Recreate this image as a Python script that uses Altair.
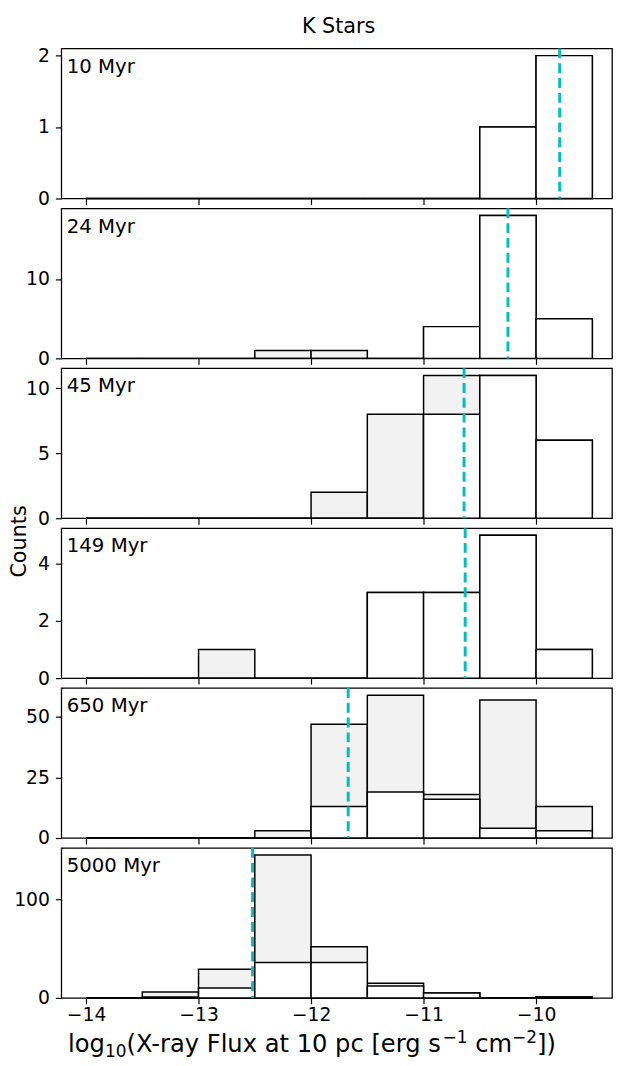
import altair as alt
import pandas as pd

# ---- data ----
bin_edges = [-14.0, -13.5, -13.0, -12.5, -12.0, -11.5, -11.0, -10.5, -10.0, -9.5]
ages = ["10 Myr", "24 Myr", "45 Myr", "149 Myr", "650 Myr", "5000 Myr"]

total_10 = [0, 0, 0, 0, 0, 0, 0, 1, 2]
det_10 = [0, 0, 0, 0, 0, 0, 0, 1, 2]
total_24 = [0, 0, 0, 1, 1, 0, 4, 18, 5]
det_24 = [0, 0, 0, 0, 0, 0, 4, 18, 5]
total_45 = [0, 0, 0, 0, 2, 8, 11, 11, 6]
det_45 = [0, 0, 0, 0, 0, 0, 8, 11, 6]
total_149 = [0, 0, 1, 0, 0, 3, 3, 5, 1]
det_149 = [0, 0, 0, 0, 0, 3, 3, 5, 1]
total_650 = [0, 0, 0, 3, 47, 59, 18, 57, 13]
det_650 = [0, 0, 0, 0, 13, 19, 16, 4, 3]
total_5000 = [0, 6, 29, 145, 52, 15, 5, 0, 1]
det_5000 = [0, 1, 10, 36, 36, 12, 5, 0, 1]

medians = [-9.79, -10.25, -10.64, -10.63, -11.67, -12.52]
y_ticks = [[0, 1, 2], [0, 10], [0, 5, 10], [0, 2, 4], [0, 25, 50], [0, 100]]
x_ticks = [-14, -13, -12, -11, -10]

title_text = "K Stars"
y_title = "Counts"
# x title pieces: (text, role) role: n = normal, sub = subscript, sup = superscript
x_title_parts = [("log", "n"), ("10", "sub"), ("(X-ray Flux at 10 pc [erg s", "n"),
                 ("\u22121", "sup"), (" cm", "n"), ("\u22122", "sup"), ("])", "n")]

totals = [total_10, total_24, total_45, total_149, total_650, total_5000]
dets = [det_10, det_24, det_45, det_149, det_650, det_5000]

FONT = "DejaVu Sans"
W, H = 558, 152
x_scale = alt.Scale(domain=[-14.22, -9.325], nice=False, zero=False)

# DejaVu Sans advance widths (em) for laying out the composite x title
ADV = {"l": .278, "o": .612, "g": .635, "(": .390, "X": .685, "-": .361, "r": .411,
       "a": .613, "y": .592, " ": .318, "F": .575, "u": .634, "x": .592, "t": .392,
       "1": .636, "0": .636, "p": .635, "c": .550, "[": .390, "e": .615, "s": .521,
       "m": .974, "]": .390, ")": .390, "\u2212": .838, "2": .636}
XF = 24.5


def text_width(s, size):
    return sum(ADV.get(ch, .6) for ch in s) * size


def xtitle_layers(center_x, base_y):
    pieces = []
    for t, role in x_title_parts:
        size = XF if role == "n" else XF * 0.7
        dy = 0 if role == "n" else (XF * 0.18 if role == "sub" else -XF * 0.38)
        pieces.append((t, size, dy))
    total = sum(text_width(t, s) for t, s, _ in pieces)
    x = center_x - total / 2
    out = []
    for t, s, dy in pieces:
        lead = len(t) - len(t.lstrip(" "))
        shown = t.lstrip(" ")
        out.append(alt.Chart(pd.DataFrame({"t": [shown]})).mark_text(
            align="left", baseline="alphabetic", fontSize=s, font=FONT, color="black").encode(
            x=alt.value(x + text_width(" " * lead, s)), y=alt.value(base_y + dy), text="t:N"))
        x += text_width(t, s)
    return out


def panel(i):
    df = pd.DataFrame({
        "x0": bin_edges[:-1],
        "x1": bin_edges[1:],
        "total": totals[i],
        "det": dets[i],
        "base": [0] * len(totals[i]),
    })
    last = i == len(totals) - 1
    y_scale = alt.Scale(domain=[0, max(totals[i]) * 1.05], nice=False, zero=True)
    xaxis = alt.Axis(values=x_ticks, labels=last, title=None, labelFlush=False)
    yaxis = alt.Axis(values=y_ticks[i], title=None, labelFlush=False, labelOverlap=False,
                     labelExpr="format(datum.value, 'd')")

    base = alt.Chart(df)
    gray = base.mark_rect(fill="#f2f2f2", stroke="black", strokeWidth=1.5).encode(
        x=alt.X("x0:Q", scale=x_scale, axis=xaxis), x2="x1:Q",
        y=alt.Y("total:Q", scale=y_scale, axis=yaxis), y2="base:Q")
    white = base.mark_rect(fill="white", stroke="black", strokeWidth=1.5).encode(
        x=alt.X("x0:Q", scale=x_scale, axis=xaxis), x2="x1:Q",
        y=alt.Y("det:Q", scale=y_scale, axis=yaxis), y2="base:Q")
    rule = alt.Chart(pd.DataFrame({"m": [medians[i]]})).mark_rule(
        color="#00bfbf", strokeWidth=3, strokeDash=[10, 5]).encode(
        x=alt.X("m:Q", scale=x_scale, axis=xaxis))
    label = alt.Chart(pd.DataFrame({"t": [ages[i]]})).mark_text(
        align="left", baseline="alphabetic", fontSize=20, font=FONT, color="black").encode(
        x=alt.value(5.5), y=alt.value(24.5), text="t:N")
    layers = [gray, white, rule, label]
    if i == 0:
        layers.append(alt.Chart(pd.DataFrame({"t": [title_text]})).mark_text(
            align="center", baseline="alphabetic", fontSize=21, font=FONT, color="black").encode(
            x=alt.value(281), y=alt.value(-16), text="t:N"))
    if i == 3:
        layers.append(alt.Chart(pd.DataFrame({"t": [y_title]})).mark_text(
            align="center", baseline="middle", fontSize=21, font=FONT, color="black", angle=270).encode(
            x=alt.value(-41.5), y=alt.value(13.5), text="t:N"))
    if last:
        layers.extend(xtitle_layers(254, H + 55))
    return alt.layer(*layers).properties(width=W, height=H)


PAD = {"left": 0, "top": 0, "right": 0, "bottom": 0}
chart = alt.vconcat(*[panel(i) for i in range(6)], spacing=10, bounds="flush").properties(
    padding=PAD
).configure(padding=PAD).configure_view(stroke="black", strokeWidth=1.3).configure_axis(
    domain=False, grid=False, tickColor="black", tickSize=6, tickWidth=1.2,
    labelFont=FONT, labelFontSize=19, labelColor="black",
).configure_axisX(labelPadding=2).configure_axisY(labelPadding=6)

chart.save("out.html", embed_options={"renderer": "svg", "actions": False})
